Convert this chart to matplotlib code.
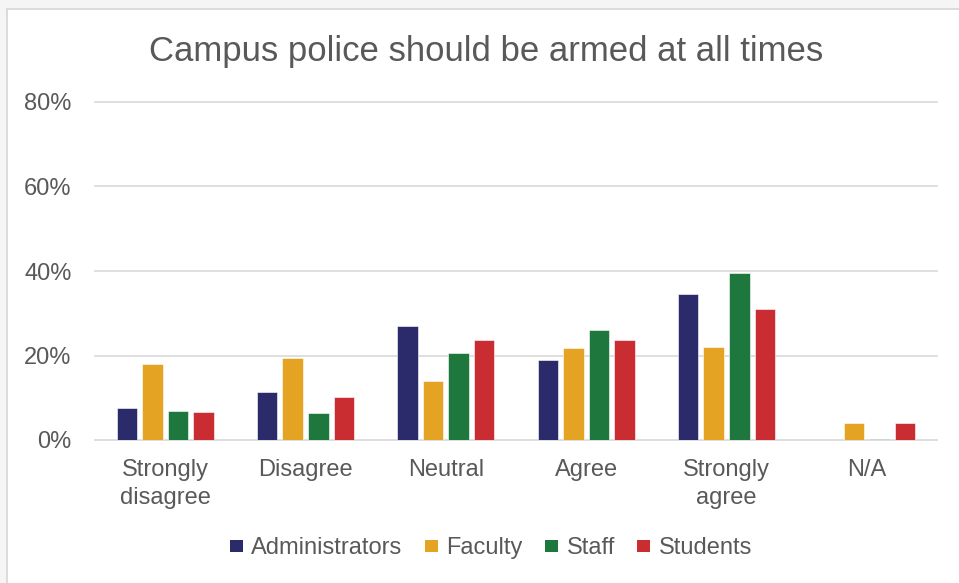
import matplotlib.pyplot as plt
from matplotlib.patches import Patch, Rectangle
from matplotlib.lines import Line2D
import numpy as np

plt.rcParams['font.family'] = ['Liberation Sans', 'DejaVu Sans']

categories = ['Strongly\ndisagree', 'Disagree', 'Neutral', 'Agree', 'Strongly\nagree', 'N/A']
groups = ['Administrators', 'Faculty', 'Staff', 'Students']
administrators = [7.5, 11.4, 26.9, 19.0, 34.5, 0.0]
faculty = [18.0, 19.3, 13.9, 21.8, 22.1, 4.0]
staff = [6.9, 6.3, 20.5, 26.0, 39.6, 0.2]
students = [6.6, 10.2, 23.7, 23.7, 31.0, 4.0]
colors = ['#2B2A6B', '#E5A323', '#1E773D', '#C92D31']

W, H = 959, 583
fig = plt.figure(figsize=(W / 100, H / 100), dpi=100)
fig.patch.set_facecolor('#F5F5F5')

# chart frame (white area with light border on top/left)
fig.patches.append(Rectangle((7 / W, 0), 1, 1 - 9 / H, transform=fig.transFigure,
                             facecolor='white', edgecolor='none', zorder=-10))
fig.lines.append(Line2D([7 / W, 1], [1 - 9 / H, 1 - 9 / H], transform=fig.transFigure,
                        color='#D9D9D9', lw=1.3, zorder=-9))
fig.lines.append(Line2D([7 / W, 7 / W], [0, 1 - 9 / H], transform=fig.transFigure,
                        color='#D9D9D9', lw=1.3, zorder=-9))

ax = fig.add_axes([95 / W, (H - 440) / H, (937 - 95) / W, (440 - 102) / H])
ax.set_facecolor('none')

x = np.arange(len(categories))
width = 0.146
step = 0.182
series = [administrators, faculty, staff, students]
for i, (vals, name, c) in enumerate(zip(series, groups, colors)):
    ax.bar(x + (i - 1.5) * step, vals, width, color=c, label=name,
           edgecolor='white', linewidth=0.4, zorder=3)

ax.set_xlim(-0.5, len(categories) - 0.5)
ax.set_ylim(0, 80)
yticks = [0, 20, 40, 60, 80]
for t in yticks:
    ax.axhline(t, color='#D9D9D9', lw=1.2, clip_on=False, zorder=1)
ax.set_yticks(yticks)
ax.set_yticklabels([f'{t}%' for t in yticks])
ax.set_xticks(x)
ax.set_xticklabels(categories, linespacing=1.3)
for s in ax.spines.values():
    s.set_visible(False)
ax.tick_params(axis='both', length=0, labelsize=17, labelcolor='#595959')
ax.tick_params(axis='y', pad=17)
ax.tick_params(axis='x', pad=14)

fig.text(486 / W, 1 - 52 / H, 'Campus police should be armed at all times',
         ha='center', va='center', fontsize=25, color='#595959')

handles = [Patch(facecolor=c, edgecolor='none') for c in colors]
fig.legend(handles, groups, loc='center', bbox_to_anchor=(491 / W, 1 - 548 / H),
           ncol=4, frameon=False, fontsize=17, labelcolor='#595959',
           handlelength=0.55, handleheight=0.4, handletextpad=0.35,
           columnspacing=0.95, borderaxespad=0)

fig.savefig('out.png', dpi=100, facecolor=fig.get_facecolor())
